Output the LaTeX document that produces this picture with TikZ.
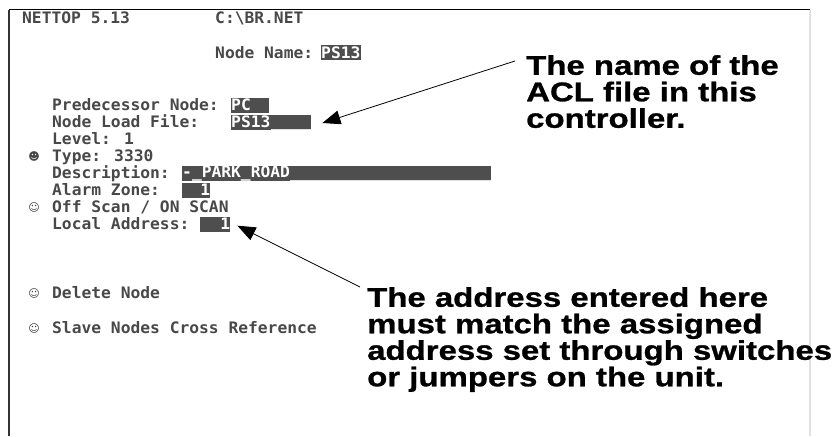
\documentclass[tikz,border=0pt]{standalone}
\usepackage{fontspec}
\usetikzlibrary{arrows.meta}
\newfontfamily\screenfont[FakeStretch=1.03]{DejaVu Sans Mono}
\newfontfamily\calloutfont[FakeStretch=1.22,FakeBold=1]{Liberation Sans}
\newfontfamily\iconfont{DejaVu Sans}
\definecolor{screengray}{RGB}{72,72,72}
\definecolor{fieldgray}{RGB}{78,78,78}
\definecolor{framegray}{RGB}{225,225,225}
\tikzset{
  screentext/.style={anchor=base west, inner sep=0pt, text=screengray,
    font=\screenfont\bfseries\fontsize{15.8}{17}\selectfont},
  fieldbox/.style={fill=fieldgray, inner sep=0pt, minimum height=15pt, anchor=west},
  fieldtext/.style={inner sep=0pt, text=white,
    font=\screenfont\bfseries\fontsize{15.8}{17}\selectfont},
  bullet/.style={inner sep=0pt, text=screengray, font=\iconfont\fontsize{11}{11}\selectfont},
  callout/.style={anchor=north west, align=left, inner sep=0pt,
    font=\calloutfont\bfseries\fontsize{27}{26.5}\selectfont},
  pointer/.style={-{Triangle[length=18pt,width=14pt]}, line width=0.8pt},
}
\begin{document}
\begin{tikzpicture}[x=1pt,y=-1pt]
  % page size
  \useasboundingbox (0,0) rectangle (837,436);
  % row layout of the screen
  \def\ytop {105};
  \def\pitch {17};
  % screen frame
  \draw[line width=2pt, black!80] (9,10) -- (9,436);
  \draw[line width=1pt] (9,10) -- (810,10);
  \draw[line width=1.5pt, framegray] (810,10) -- (810,436);
  % header
  \node[screentext] (title) at (22,23.5) {NETTOP 5.13};
  \node[screentext] (path) at (215,23.5) {C:\textbackslash BR.NET};
  \node[fieldbox, minimum width=40pt] (f_name) at (321,53) {};
  \node[screentext] (nodename) at (215,58.5) {Node Name:};
  \node[fieldtext, anchor=west] at (f_name.west) {PS13};
  % screen rows
  \foreach \txt [count=\i] in {Predecessor Node:, Node Load File:, Level: 1, Type: 3330,
      Description:, Alarm Zone:, Off Scan / ON SCAN, Local Address:}
  {
    \node[screentext] (row_\i) at (52, {\ytop + (\i-1)*\pitch + 5.8}) {\txt};
  }
  % input fields: name / x / width / row
  \foreach \name/\fx/\fw/\row in {pred/231/38/1, load/231/80/2, desc/182/309/5,
      alarm/182/28/6, local/200/30/8}
  {
    \node[fieldbox, minimum width=\fw pt] (f_\name) at (\fx, {\ytop + (\row-1)*\pitch}) {};
  }
  \node[fieldtext, anchor=west] at (f_pred.west) {PC};
  \node[fieldtext, anchor=west] at (f_load.west) {PS13};
  \node[fieldtext, anchor=west] at (f_desc.west) {-\_PARK\_ROAD};
  \node[fieldtext, anchor=east] at (f_alarm.east) {1};
  \node[fieldtext, anchor=east] at (f_local.east) {1};
  % underlines of the empty part of a field
  \draw[framegray, line width=1pt] ([xshift=40pt]f_load.south west) -- (f_load.south east);
  \draw[framegray, line width=1pt] ([xshift=108pt]f_desc.south west) -- (f_desc.south east);
  % menu options
  \node[screentext] (delete) at (52,298.8) {Delete Node};
  \node[screentext] (slave) at (52,333.8) {Slave Nodes Cross Reference};
  \node[bullet] (b_type) at (34,{\ytop + 3*\pitch}) {☻};
  \node[bullet] (b_scan) at (34,{\ytop + 6*\pitch}) {☺};
  \node[bullet] (b_delete) at (34,293) {☺};
  \node[bullet] (b_slave) at (34,328) {☺};
  % callouts
  \node[callout] (aclnote) at (526,55) {The name of the\\ACL file in this\\controller.};
  \node[callout] (addrnote) at (367,287) {The address entered here\\must match the assigned\\address set through switches\\or jumpers on the unit.};
  % arrows
  \coordinate (acltail) at ([xshift=-11pt,yshift=-6pt]aclnote.north west);
  \coordinate (acltip) at ([xshift=11pt,yshift=-1pt]f_load.east);
  \coordinate (addrtail) at ([xshift=-7pt,yshift=0pt]addrnote.north west);
  \coordinate (addrtip) at ([xshift=7pt,yshift=6pt]f_local.south east);
  \draw[pointer] (acltail) -- (acltip);
  \draw[pointer] (addrtail) -- (addrtip);
\end{tikzpicture}
\end{document}
